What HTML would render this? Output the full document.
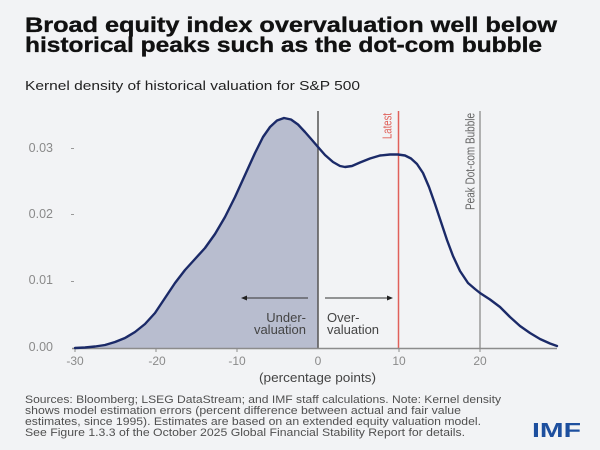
<!DOCTYPE html>
<html><head><meta charset="utf-8"><style>
html,body{margin:0;padding:0;background:#f2f3f5;}
svg{display:block;}
text{font-family:"Liberation Sans",sans-serif;}
</style></head><body>
<svg width="600" height="450" viewBox="0 0 600 450" xmlns="http://www.w3.org/2000/svg">
<rect width="600" height="450" fill="#f2f3f5"/>
<text x="25" y="32" font-size="21" font-weight="bold" fill="#111" stroke="#111" stroke-width="0.35" textLength="532" lengthAdjust="spacingAndGlyphs">Broad equity index overvaluation well below</text>
<text x="25" y="52" font-size="21" font-weight="bold" fill="#111" stroke="#111" stroke-width="0.35" textLength="517" lengthAdjust="spacingAndGlyphs">historical peaks such as the dot-com bubble</text>
<text x="25" y="90" font-size="13" fill="#222" textLength="335" lengthAdjust="spacingAndGlyphs">Kernel density of historical valuation for S&amp;P 500</text>

<!-- fill -->
<path fill="#b8bdcf" d="M75,348 L85,347.5 L95,346.5 L105,345 L115,342 L125,338 L135,332 L145,324 L155,313 L165,298 L175,283 L185,270 L195,259 L205,248 L215,234 L225,217 L235,197 L245,175 L255,153 L263,137 L270,127 L277,120.5 L284,118 L291,119.5 L298,124.5 L305,132 L312,140 L318,147 L318,348 Z"/>

<!-- y ticks -->
<g font-size="12.5" fill="#8a8a8a" text-anchor="end">
<text x="53" y="152">0.03</text>
<text x="53" y="218">0.02</text>
<text x="53" y="284">0.01</text>
<text x="53" y="351">0.00</text>
</g>
<g stroke="#999" stroke-width="1">
<line x1="71" y1="148.5" x2="74" y2="148.5"/>
<line x1="71" y1="214.5" x2="74" y2="214.5"/>
<line x1="71" y1="281.5" x2="74" y2="281.5"/>
</g>

<!-- vertical lines -->
<line x1="318" y1="111" x2="318" y2="348" stroke="#555" stroke-width="1.5"/>
<line x1="398.5" y1="111" x2="398.5" y2="348" stroke="#e0605a" stroke-width="1.5"/>
<line x1="480" y1="111" x2="480" y2="348" stroke="#9a9a9a" stroke-width="1.5"/>

<!-- axis -->
<line x1="72" y1="348.5" x2="557" y2="348.5" stroke="#8c8c8c" stroke-width="1.5"/>
<g stroke="#8c8c8c" stroke-width="1">
<line x1="75" y1="348" x2="75" y2="352"/>
<line x1="156" y1="348" x2="156" y2="352"/>
<line x1="237" y1="348" x2="237" y2="352"/>
<line x1="399" y1="348" x2="399" y2="352"/>
<line x1="480" y1="348" x2="480" y2="352"/>
</g>
<g font-size="12" fill="#8a8a8a" text-anchor="middle">
<text x="75" y="365">-30</text>
<text x="157" y="365">-20</text>
<text x="237" y="365">-10</text>
<text x="318" y="365">0</text>
<text x="399" y="365">10</text>
<text x="480" y="365">20</text>
</g>
<text x="317.5" y="382" font-size="13" fill="#444" text-anchor="middle" textLength="117" lengthAdjust="spacingAndGlyphs">(percentage points)</text>

<!-- curve -->
<path fill="none" stroke="#1b2a68" stroke-width="2.4" stroke-linejoin="round" stroke-linecap="round" d="M75,348 L85,347.5 L95,346.5 L105,345 L115,342 L125,338 L135,332 L145,324 L155,313 L165,298 L175,283 L185,270 L195,259 L205,248 L215,234 L225,217 L235,197 L245,175 L255,153 L263,137 L270,127 L277,120.5 L284,118 L291,119.5 L298,124.5 L305,132 L312,140 L318,147 L325,155 L333,162 L340,166 L345,167 L352,166 L360,162.5 L370,158.5 L380,155.5 L390,154.5 L398,154.5 L405,155.5 L411,158.5 L417,164 L423,173 L429,187 L435,204 L441,222 L447,240 L453,256 L460,271 L468,283 L475,289 L480,293 L490,299.5 L500,307 L510,317 L520,326 L530,333 L540,339 L550,343.5 L557,346"/>

<!-- rotated labels -->
<text transform="translate(391.5,113) rotate(-90)" text-anchor="end" font-size="13" fill="#e0605a" textLength="26" lengthAdjust="spacingAndGlyphs">Latest</text>
<text transform="translate(474.5,113) rotate(-90)" text-anchor="end" font-size="13" fill="#666" textLength="97" lengthAdjust="spacingAndGlyphs">Peak Dot-com Bubble</text>

<!-- arrows -->
<line x1="308" y1="298" x2="244" y2="298" stroke="#333" stroke-width="1"/>
<path d="M241,298 L247,295.5 L247,300.5 Z" fill="#222"/>
<line x1="325" y1="298" x2="388" y2="298" stroke="#333" stroke-width="1"/>
<path d="M393,298 L387,295.5 L387,300.5 Z" fill="#222"/>

<g font-size="13" fill="#444">
<text x="306" y="322" text-anchor="end">Under-</text>
<text x="306" y="334" text-anchor="end">valuation</text>
<text x="327" y="322">Over-</text>
<text x="327" y="334">valuation</text>
</g>

<!-- footer -->
<g font-size="11" fill="#505050">
<text x="25" y="403" textLength="476" lengthAdjust="spacingAndGlyphs">Sources: Bloomberg; LSEG DataStream; and IMF staff calculations. Note: Kernel density</text>
<text x="25" y="414" textLength="436" lengthAdjust="spacingAndGlyphs">shows model estimation errors (percent difference between actual and fair value</text>
<text x="25" y="425" textLength="456" lengthAdjust="spacingAndGlyphs">estimates, since 1995). Estimates are based on an extended equity valuation model.</text>
<text x="25" y="436" textLength="440" lengthAdjust="spacingAndGlyphs">See Figure 1.3.3 of the October 2025 Global Financial Stability Report for details.</text>
</g>
<text x="532" y="437" font-size="20" font-weight="bold" fill="#1d4f9e" textLength="49" lengthAdjust="spacingAndGlyphs">IMF</text>
</svg>
</body></html>
